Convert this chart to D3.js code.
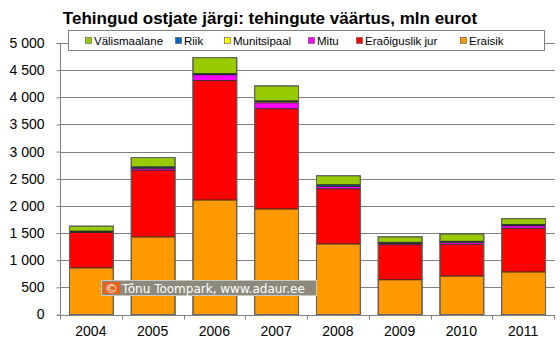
<!DOCTYPE html>
<html><head><meta charset="utf-8">
<script src="https://cdn.jsdelivr.net/npm/d3@7"></script>
<style>body{margin:0;background:#fff}svg{display:block}</style>
</head><body>
<svg id="c" width="560" height="341"></svg>
<script>
const years = ["2004","2005","2006","2007","2008","2009","2010","2011"];
const eraisik      = [860, 1430, 2110, 1945, 1300, 640, 710, 785];
const eraoiguslik  = [655, 1230, 2200, 1845, 1015, 645, 585, 805];
const mitu         = [5, 35, 105, 110, 45, 25, 35, 45];
const munitsipaal  = [2, 5, 5, 25, 5, 5, 5, 5];
const riik         = [15, 20, 20, 10, 25, 15, 15, 20];
const valismaalane = [90, 170, 290, 275, 165, 100, 135, 105];
const seriesNames  = ["Eraisik","Eraõiguslik jur","Mitu","Munitsipaal","Riik","Välismaalane"];
const seriesVals   = [eraisik, eraoiguslik, mitu, munitsipaal, riik, valismaalane];
const colors       = ["#FF9900","#FF0000","#FF00FF","#FFFF00","#0066CC","#99CC00"];
const yTicks       = [0,500,1000,1500,2000,2500,3000,3500,4000,4500,5000];
const title = "Tehingud ostjate järgi: tehingute väärtus, mln eurot";
const credit = "Tõnu Toompark, www.adaur.ee";

const svg = d3.select("#c");
const font = "'Liberation Sans', Arial, sans-serif";

const x = d3.scaleBand().domain(years).range([60, 554]).paddingInner(0.29).paddingOuter(0.145);
const y = d3.scaleLinear().domain([0, 5000]).range([314.5, 43]);

// patterns
const defs = svg.append("defs");
function dotPattern(id, base, dot){
  const p = defs.append("pattern").attr("id", id).attr("patternUnits","userSpaceOnUse")
    .attr("width", 8).attr("height", 8);
  p.append("rect").attr("width",8).attr("height",8).attr("fill", base);
  p.append("rect").attr("x",2).attr("y",3).attr("width",1).attr("height",1).attr("fill", dot);
}
dotPattern("pOr", colors[0], "#d98300");
dotPattern("pGr", colors[5], "#80ad00");
const fills = ["url(#pOr)", colors[1], colors[2], colors[3], colors[4], "url(#pGr)"];

// gridlines
const fmt = v => d3.format(",")(v).replace(/,/g, " ");
svg.append("g").selectAll("line").data(yTicks.filter(d => d > 0)).join("line")
  .attr("x1", 60).attr("x2", 555)
  .attr("y1", d => Math.round(y(d)) + 0.5).attr("y2", d => Math.round(y(d)) + 0.5)
  .attr("stroke", "#808080").attr("stroke-width", 1);

// stacked bars
const table = years.map((yr, i) => {
  const o = {year: yr};
  seriesNames.forEach((s, k) => o[s] = seriesVals[k][i]);
  return o;
});
const stack = d3.stack().keys(seriesNames)(table);
const gb = svg.append("g");
stack.forEach((layer, k) => {
  gb.selectAll(null).data(layer).join("rect")
    .attr("x", d => x(d.data.year) + 0.5)
    .attr("width", x.bandwidth())
    .attr("y", d => y(d[1]))
    .attr("height", d => y(d[0]) - y(d[1]))
    .attr("fill", fills[k])
    .attr("stroke", "#2a2a2a").attr("stroke-width", 0.8);
});
// outer bar outline
gb.selectAll(null).data(table).join("rect")
  .attr("x", d => x(d.year) + 0.5)
  .attr("width", x.bandwidth())
  .attr("y", d => y(seriesNames.reduce((a, s) => a + d[s], 0)))
  .attr("height", d => y(0) - y(seriesNames.reduce((a, s) => a + d[s], 0)))
  .attr("fill", "none").attr("stroke", "#666").attr("stroke-width", 1);

// y axis
const ya = svg.append("g").attr("transform", "translate(60.5,0)")
  .call(d3.axisLeft(y).tickValues(yTicks).tickFormat(fmt).tickSize(4).tickPadding(12));
ya.select(".domain").attr("stroke", "#808080").attr("d", `M0,${y(5000)}V${y(0)}`);
ya.selectAll(".tick line").attr("stroke", "#808080");
ya.selectAll("text").attr("font-family", font).attr("font-size", 14).attr("fill", "#000");

// x axis
const xa = svg.append("g").attr("transform", `translate(0,${Math.round(y(0)) + 0.5})`);
xa.append("line").attr("x1", 57).attr("x2", 555).attr("stroke", "#808080");
const bounds = years.map(yr => x(yr) - x.step() * x.paddingInner() / 2).concat([x(years[years.length-1]) + x.bandwidth() + x.step()*x.paddingInner()/2]);
xa.selectAll("line.t").data(bounds).join("line").attr("class","t")
  .attr("x1", d => Math.round(d) + 0.5).attr("x2", d => Math.round(d) + 0.5)
  .attr("y1", 0).attr("y2", 4).attr("stroke", "#808080");
xa.selectAll("text").data(years).join("text")
  .attr("x", d => x(d) + x.bandwidth() / 2).attr("y", 20)
  .attr("text-anchor", "middle").attr("font-family", font).attr("font-size", 14).text(d => d);

// title
svg.append("text").attr("x", 270).attr("y", 24).attr("text-anchor", "middle")
  .attr("font-family", font).attr("font-weight", "bold").attr("font-size", 17).text(title);

// legend
const lg = svg.append("g");
lg.append("rect").attr("x", 68.5).attr("y", 30.5).attr("width", 476).attr("height", 20)
  .attr("fill", "#fff").attr("stroke", "#808080");
const legendX = [85, 175, 224, 308, 356, 460];
const legendOrder = [5, 4, 3, 2, 1, 0];
legendOrder.forEach((k, i) => {
  lg.append("rect").attr("x", legendX[i] + 0.5).attr("y", 37.5).attr("width", 6).attr("height", 6)
    .attr("fill", colors[k]).attr("stroke", "#555").attr("stroke-width", 0.6);
  lg.append("text").attr("x", legendX[i] + 9).attr("y", 45)
    .attr("font-family", font).attr("font-size", 11.5).text(seriesNames[k]);
});

// credit watermark
const wm = svg.append("g");
wm.append("rect").attr("x", 101.5).attr("y", 280.5).attr("width", 215).attr("height", 15)
  .attr("fill", "#8c8a7c").attr("stroke", "#c8c8c0");
wm.append("rect").attr("x", 103).attr("y", 282).attr("width", 17).attr("height", 12).attr("fill", "#e8641e");
wm.append("text").attr("x", 111.5).attr("y", 292.5).attr("text-anchor", "middle")
  .attr("font-family", "'DejaVu Sans', sans-serif").attr("font-size", 13).attr("fill", "#fff").text("©");
wm.append("text").attr("x", 122).attr("y", 292.5)
  .attr("font-family", "'DejaVu Sans', sans-serif").attr("font-size", 12).attr("fill", "#fff").text(credit);
</script>
</body></html>
